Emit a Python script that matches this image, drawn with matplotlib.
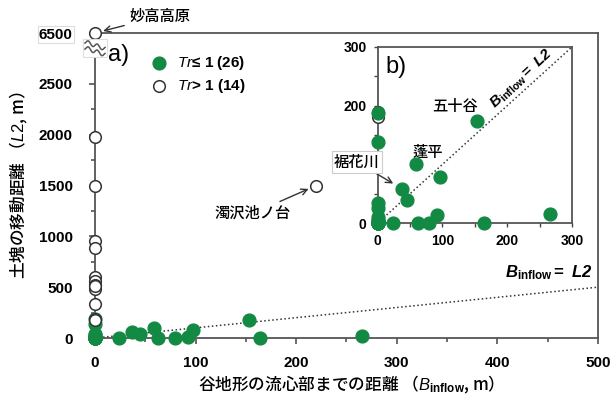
import numpy as np
import matplotlib
matplotlib.use('Agg')
import matplotlib.pyplot as plt
from matplotlib.lines import Line2D
from matplotlib.patches import Rectangle

plt.rcParams['font.family'] = ['Noto Sans CJK JP', 'DejaVu Sans']
plt.rcParams['mathtext.fontset'] = 'custom'
plt.rcParams['mathtext.rm'] = 'Liberation Sans'
plt.rcParams['mathtext.it'] = 'Liberation Sans:italic'
plt.rcParams['mathtext.bf'] = 'Liberation Sans:bold'
plt.rcParams['mathtext.bfit'] = 'Liberation Sans:italic:bold'

# Tr <= 1 (26 slopes)
low_x = [0, 0, 0, 0, 0, 0, 0, 0, 0, 0, 0, 0, 0, 0, 0,
         24, 37, 45, 59, 63, 80, 92, 97, 153, 164, 266]
low_y = [188, 139, 35, 25, 10, 5, 3, 2, 0, 0, 0, 0, 0, 0, 0,
         1, 59, 40, 100, 0, 0, 14, 79, 174, 0, 15]
# Tr > 1 (14 slopes); 6500 is drawn on the broken part of the axis
high_x = [0, 220, 0, 0, 0, 0, 0, 0, 0, 0, 0, 0, 0, 0]
high_y = [6500, 1500, 1980, 1500, 950, 890, 600, 560, 520, 480, 330, 190, 181, 510]

broken_from = 6500
broken_to = 3000
green = '#138a43'

y_ticks = [0, 500, 1000, 1500, 2000, 2500, 3000]
y_ticklabels = ['0', '500', '1000', '1500', '2000', '2500', '6500']
x_ticks = [0, 100, 200, 300, 400, 500]
inset_ticks = [0, 100, 200, 300]
inset_ylabels = ['0', '', '200', '300']

eq_label = r'$\mathbfit{B}_{\mathbf{inflow}}\mathbf{=}\ \mathbfit{L2}$'


def plot_y(vals):
    return [broken_to if v == broken_from else v for v in vals]


fig = plt.figure(figsize=(6.15, 4.05), dpi=100)
ax = fig.add_axes([0.1545, 0.1654, 0.8175, 0.7531])

tick_font = dict(family='Liberation Sans', weight='bold', size=11)

ax.plot([0, 500], [0, 500], ls=':', color='#333333', lw=1.1, zorder=2)
ax.scatter(low_x, low_y, s=85, color=green, zorder=5, clip_on=False,
           label=r'$\mathit{Tr}$≤ 1 (26)')
ax.scatter(high_x, plot_y(high_y), s=70, facecolor='white', edgecolor='#333333',
           linewidth=1.1, zorder=5, clip_on=False, label=r'$\mathit{Tr}$> 1 (14)')

ax.set_xlim(0, 500)
ax.set_ylim(0, 3000)
ax.set_xticks(x_ticks)
ax.set_xticks(np.arange(50, 500, 100), minor=True)
ax.set_yticks(y_ticks)
ax.set_yticklabels(y_ticklabels)
ax.set_yticks(np.arange(250, 2750, 500), minor=True)
for lab in ax.get_xticklabels() + ax.get_yticklabels():
    lab.set_fontproperties(tick_font)
ax.tick_params(which='both', direction='out', length=4, width=1.1, color='#444444')
ax.tick_params(axis='y', pad=12)
ax.tick_params(axis='x', pad=9)
ax.tick_params(which='minor', length=3)
for s in ax.spines.values():
    s.set_color('#555555')
    s.set_linewidth(1.3)

ax.get_yticklabels()[-1].set_bbox(dict(facecolor='white', edgecolor='#dddddd', pad=1, lw=0.8))

ax.set_xlabel('谷地形の流心部までの距離 （$\\mathit{B}_{\\mathbf{inflow}}$, m）',
              fontsize=12, labelpad=3, weight='medium')
ax.set_ylabel('土塊の移動距離 （$\\mathit{L2}$, m）', fontsize=12, labelpad=6,
              weight='medium')

# axis break symbol
fig.canvas.draw()
x0, y0 = ax.transData.transform((0, 2850))
inv = fig.transFigure.inverted()
fig.add_artist(Rectangle(inv.transform((x0 - 12, y0 - 9)), 24 / 615, 18 / 405,
                         transform=fig.transFigure, facecolor='white',
                         edgecolor='#dddddd', lw=0.8, zorder=6))
t = np.linspace(-10, 10, 60)
for dy in (-3, 3):
    px = x0 + t
    py = y0 + dy - 0.35 * t + 2.0 * np.sin(t * 0.7)
    pts = inv.transform(np.column_stack([px, py]))
    fig.add_artist(Line2D(pts[:, 0], pts[:, 1], color='#555555', lw=1.1,
                          transform=fig.transFigure, zorder=7))

ax.text(0.025, 0.965, 'a)', transform=ax.transAxes, fontsize=17,
        family='Liberation Sans', va='top', zorder=8)

leg = ax.legend(loc='upper left', bbox_to_anchor=(0.085, 0.95), frameon=False,
                handletextpad=0.2, borderaxespad=0, labelspacing=0.3,
                prop=dict(family=['Liberation Sans', 'Noto Sans CJK JP'], weight='bold', size=11))

ax.annotate('妙高高原', xy=(0, broken_to), xytext=(25, 12), textcoords='offset points',
            fontsize=11, va='center', ha='left', weight='medium',
            arrowprops=dict(arrowstyle='->', color='#333333', lw=1, shrinkA=2, shrinkB=6))
ax.annotate('濁沢池ノ台', xy=(220, 1500), xytext=(-18, -20), textcoords='offset points',
            fontsize=11, va='center', ha='right', weight='medium',
            arrowprops=dict(arrowstyle='->', color='#333333', lw=1, shrinkA=1, shrinkB=6))
ax.text(495, 555, eq_label, ha='right', va='bottom', fontsize=12)

# inset b)
ax2 = fig.add_axes([0.614, 0.449, 0.316, 0.435])
bg = Rectangle((-0.2, -0.2), 1.25, 1.25, transform=ax2.transAxes, facecolor='white',
               edgecolor='none', zorder=-1, clip_on=False)
ax2.add_patch(bg)
ax2.plot([0, 300], [0, 300], ls=':', color='#333333', lw=1.1, zorder=2)
in_x = [x for x, y in zip(high_x, high_y) if y <= 300]
in_y = [y for y in high_y if y <= 300]
ax2.scatter(in_x, in_y, s=70, facecolor='white', edgecolor='#333333', linewidth=1.1,
            zorder=4, clip_on=False)
ax2.scatter(low_x, low_y, s=85, color=green, zorder=5, clip_on=False)
ax2.set_xlim(0, 300)
ax2.set_ylim(0, 300)
ax2.set_xticks(inset_ticks)
ax2.set_yticks(inset_ticks)
ax2.set_yticklabels(inset_ylabels)
ax2.set_xticks([50, 150, 250], minor=True)
ax2.set_yticks([50, 150, 250], minor=True)
for lab in ax2.get_xticklabels() + ax2.get_yticklabels():
    lab.set_fontproperties(dict(family='Liberation Sans', weight='bold', size=10))
ax2.tick_params(which='both', direction='out', length=3, width=1, color='#444444', pad=5)
for s in ax2.spines.values():
    s.set_color('#555555')
    s.set_linewidth(1.3)

ax2.text(0.04, 0.95, 'b)', transform=ax2.transAxes, fontsize=17,
         family='Liberation Sans', va='top')
ax2.text(222, 246, eq_label, ha='center', va='center', fontsize=11, rotation=43)
ax2.text(120, 198, '五十谷', ha='center', va='center', fontsize=11, weight='medium')
ax2.text(77, 121, '蓬平', ha='center', va='center', fontsize=11, weight='medium')
ax2.annotate('裾花川', xy=(37, 59), xytext=(-32, 104), textcoords='data',
             fontsize=11, ha='center', va='center', zorder=9, weight='medium',
             bbox=dict(facecolor='white', edgecolor='#cccccc', pad=1.5, lw=0.8),
             arrowprops=dict(arrowstyle='->', color='#333333', lw=1, shrinkA=0, shrinkB=7))

fig.savefig('out.png', dpi=100)
